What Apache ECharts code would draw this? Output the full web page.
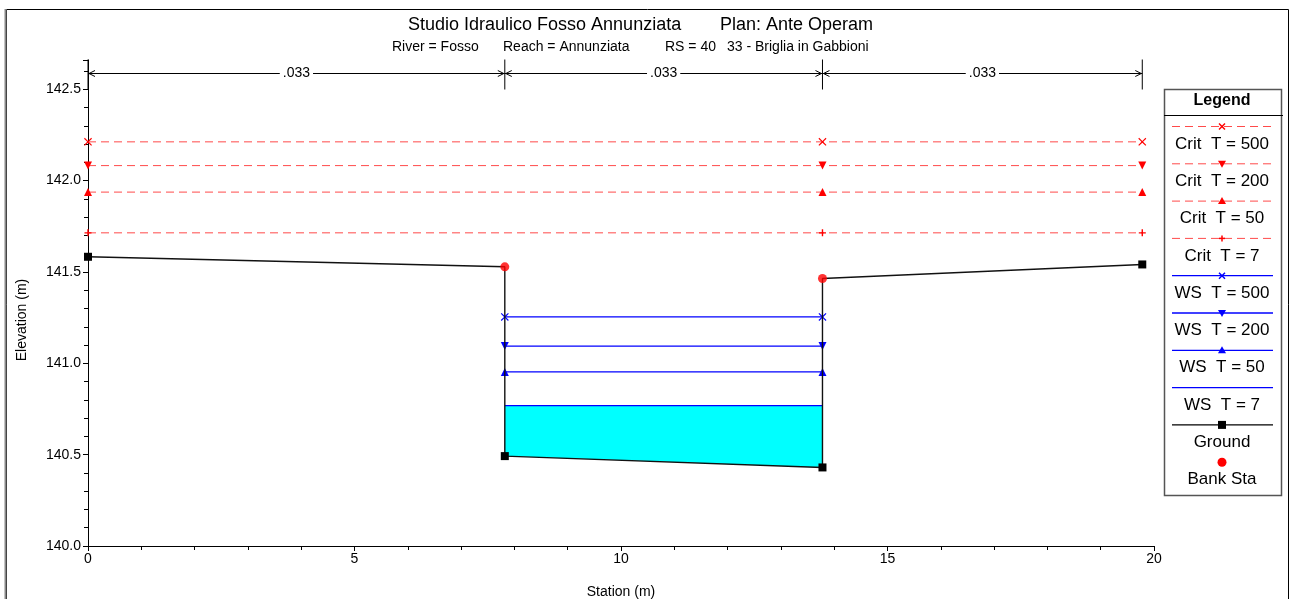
<!DOCTYPE html>
<html>
<head>
<meta charset="utf-8">
<script src="https://cdn.jsdelivr.net/npm/echarts@6/dist/echarts.min.js"></script>
<style>html,body{margin:0;padding:0;background:#fff}#c{width:1291px;height:599px}</style>
</head>
<body>
<div id="c"></div>
<script>
// ---- data ----
const groundX = [0, 7.82, 7.82, 13.78, 13.78, 19.78];
const groundY = [141.583, 141.528, 140.492, 140.43, 141.464, 141.541];
const bankX = [7.82, 13.78];
const bankY = [141.528, 141.464];
const wsX = [7.82, 13.78];
const wsNames = ['WS  T = 500', 'WS  T = 200', 'WS  T = 50', 'WS  T = 7'];
const wsLevels = [141.254, 141.094, 140.953, 140.768];
const critX = [0, 13.78, 19.78];
const critNames = ['Crit  T = 500', 'Crit  T = 200', 'Crit  T = 50', 'Crit  T = 7'];
const critLevels = [142.212, 142.082, 141.937, 141.714];
const nBounds = [0, 7.82, 13.78, 19.78];
const nValues = ['.033', '.033', '.033'];
const xTicks = [0, 5, 10, 15, 20];
const yTicks = [140.0, 140.5, 141.0, 141.5, 142.0, 142.5];

const FONT = 'Liberation Sans, Arial, sans-serif';
const RED = '#ff0000', RED_LINE = '#ff4a4a', BLUE = '#0000ff';

const SYM = {
  x: 'path://M1,0L5,4L9,0L10,1L6,5L10,9L9,10L5,6L1,10L0,9L4,5L0,1Z',
  down: 'path://M0,0L10,0L5,9Z',
  up: 'path://M5,0L10,9L0,9Z',
  plus: 'path://M4,0H6V4H10V6H6V10H4V6H0V4H4Z'
};
const markerKinds = ['x', 'down', 'up', 'plus'];
const wsMarkerKinds = ['x', 'down', 'up', null];

const series = [];

// water fill (WS T = 7 down to channel bed)
series.push({
  type: 'custom', name: 'water', z: 1, silent: true,
  data: [[0]],
  renderItem: function (params, api) {
    const lvl = wsLevels[3];
    const pts = [
      api.coord([groundX[2], lvl]),
      api.coord([groundX[3], lvl]),
      api.coord([groundX[3], groundY[3]]),
      api.coord([groundX[2], groundY[2]])
    ];
    return { type: 'polygon', shape: { points: pts }, style: { fill: '#00ffff', stroke: null } };
  }
});

// Crit lines
critLevels.forEach(function (lv, i) {
  series.push({
    type: 'line', name: critNames[i], z: 3,
    data: critX.map(function (x) { return [x, lv]; }),
    symbol: SYM[markerKinds[i]], symbolSize: i === 3 ? 7 : 8, showSymbol: true,
    itemStyle: { color: RED },
    lineStyle: { color: RED_LINE, width: 1, type: [8, 5] },
    animation: false
  });
});

// WS lines
wsLevels.forEach(function (lv, i) {
  const k = wsMarkerKinds[i];
  series.push({
    type: 'line', name: wsNames[i], z: 4,
    data: wsX.map(function (x) { return [x, lv]; }),
    symbol: k ? SYM[k] : 'none', symbolSize: 8, showSymbol: !!k,
    itemStyle: { color: BLUE },
    lineStyle: { color: BLUE, width: 1.2 },
    animation: false
  });
});

// Ground
series.push({
  type: 'line', name: 'Ground', z: 5,
  data: groundX.map(function (x, i) {
    let isBank = false;
    for (let j = 0; j < bankX.length; j++) if (bankX[j] === x && bankY[j] === groundY[i]) isBank = true;
    return { value: [x, groundY[i]], symbol: isBank ? 'none' : 'rect' };
  }),
  symbolSize: 8, showSymbol: true,
  itemStyle: { color: '#000' },
  lineStyle: { color: '#111', width: 1.4 },
  animation: false
});

// Bank stations
series.push({
  type: 'scatter', name: 'Bank Sta', z: 6,
  data: bankX.map(function (x, i) { return [x, bankY[i]]; }),
  symbol: 'circle', symbolSize: 9,
  itemStyle: { color: RED },
  animation: false
});

// Manning's n annotations
series.push({
  type: 'custom', name: 'n', z: 7, silent: true, clip: false,
  data: nValues.map(function (v, i) { return [nBounds[i], nBounds[i + 1]]; }),
  renderItem: function (params, api) {
    const i = params.dataIndex;
    const y = params.coordSys.y + 13.5;
    const x0 = api.coord([nBounds[i], 142])[0];
    const x1 = api.coord([nBounds[i + 1], 142])[0];
    const st = { stroke: '#000', lineWidth: 1, fill: null };
    const children = [
      { type: 'line', shape: { x1: x0, y1: y, x2: x1, y2: y }, style: st },
      { type: 'polyline', shape: { points: [[x0 + 7, y - 3], [x0 + 1, y], [x0 + 7, y + 3]] }, style: st },
      { type: 'polyline', shape: { points: [[x1 - 7, y - 3], [x1 - 1, y], [x1 - 7, y + 3]] }, style: st },
      { type: 'line', shape: { x1: x1, y1: y - 14, x2: x1, y2: y + 16 }, style: st },
      { type: 'text', x: (x0 + x1) / 2, y: y, style: {
          text: nValues[i], align: 'center', verticalAlign: 'middle',
          fill: '#000', font: '14px ' + FONT, backgroundColor: '#fff', padding: [0, 3]
        } }
    ];
    if (i === 0) children.push({ type: 'line', shape: { x1: x0, y1: y - 14, x2: x0, y2: y + 16 }, style: st });
    return { type: 'group', children: children };
  }
});

// ---- legend (graphic) ----
const legendItems = [];
critNames.forEach(function (n, i) { legendItems.push({ name: n, color: RED, line: RED_LINE, dash: [8, 5], marker: markerKinds[i] }); });
wsNames.forEach(function (n, i) { legendItems.push({ name: n, color: BLUE, line: BLUE, dash: null, marker: wsMarkerKinds[i] }); });
legendItems.push({ name: 'Ground', color: '#000', line: '#000', dash: null, marker: 'square' });
legendItems.push({ name: 'Bank Sta', color: RED, line: null, dash: null, marker: 'circle' });

function markerGraphic(kind, cx, cy, color) {
  const ls = { stroke: color, lineWidth: 1.5 };
  if (kind === 'x') return { type: 'group', children: [
    { type: 'line', shape: { x1: cx - 3, y1: cy - 3, x2: cx + 3, y2: cy + 3 }, style: ls, z: 12 },
    { type: 'line', shape: { x1: cx + 3, y1: cy - 3, x2: cx - 3, y2: cy + 3 }, style: ls, z: 12 } ] };
  if (kind === 'plus') return { type: 'group', children: [
    { type: 'line', shape: { x1: cx - 3, y1: cy, x2: cx + 3, y2: cy }, style: ls, z: 12 },
    { type: 'line', shape: { x1: cx, y1: cy - 3, x2: cx, y2: cy + 3 }, style: ls, z: 12 } ] };
  if (kind === 'down') return { type: 'polygon', shape: { points: [[cx - 4, cy - 3], [cx + 4, cy - 3], [cx, cy + 4]] }, style: { fill: color } };
  if (kind === 'up') return { type: 'polygon', shape: { points: [[cx - 4, cy + 3], [cx + 4, cy + 3], [cx, cy - 4]] }, style: { fill: color } };
  if (kind === 'square') return { type: 'rect', shape: { x: cx - 4, y: cy - 4, width: 8, height: 8 }, style: { fill: color } };
  if (kind === 'circle') return { type: 'circle', shape: { cx: cx, cy: cy, r: 4.5 }, style: { fill: color } };
  return null;
}

const graphics = [
  // outer frame
  { type: 'rect', shape: { x: 6.5, y: 9.5, width: 1282, height: 620 }, style: { stroke: '#000', lineWidth: 1, fill: null }, silent: true },
  { type: 'line', shape: { x1: 5.5, y1: 9, x2: 5.5, y2: 599 }, style: { stroke: '#888', lineWidth: 2 }, silent: true },
  // titles
  { type: 'text', x: 408, y: 25, style: { text: 'Studio Idraulico Fosso Annunziata', font: '18px ' + FONT, fill: '#000', verticalAlign: 'middle' } },
  { type: 'text', x: 720, y: 25, style: { text: 'Plan: Ante Operam', font: '18px ' + FONT, fill: '#000', verticalAlign: 'middle' } },
  { type: 'text', x: 392, y: 47, style: { text: 'River = Fosso', font: '14px ' + FONT, fill: '#000', verticalAlign: 'middle' } },
  { type: 'text', x: 503, y: 47, style: { text: 'Reach = Annunziata', font: '14px ' + FONT, fill: '#000', verticalAlign: 'middle' } },
  { type: 'text', x: 665, y: 47, style: { text: 'RS = 40', font: '14px ' + FONT, fill: '#000', verticalAlign: 'middle' } },
  { type: 'text', x: 727, y: 47, style: { text: '33 - Briglia in Gabbioni', font: '14px ' + FONT, fill: '#000', verticalAlign: 'middle' } },
  // axis names
  { type: 'text', x: 22, y: 320, rotation: Math.PI / 2, style: { text: 'Elevation (m)', font: '14px ' + FONT, fill: '#000', align: 'center', verticalAlign: 'middle' } },
  { type: 'text', x: 621, y: 592, style: { text: 'Station (m)', font: '14px ' + FONT, fill: '#000', align: 'center', verticalAlign: 'middle' } },
  // legend box
  { type: 'rect', shape: { x: 1164.5, y: 89.5, width: 117, height: 406 }, style: { stroke: '#555', lineWidth: 1.5, fill: '#fff' }, z: 10 },
  { type: 'text', x: 1222, y: 101, z: 11, style: { text: 'Legend', font: 'bold 16px ' + FONT, fill: '#000', align: 'center', verticalAlign: 'middle' } },
  { type: 'line', shape: { x1: 1164, y1: 115.5, x2: 1283, y2: 115.5 }, style: { stroke: '#000', lineWidth: 1 }, z: 11 }
];
legendItems.forEach(function (it, i) {
  const iy = 126.5 + i * 37.3;
  if (it.line) graphics.push({ type: 'line', z: 11, shape: { x1: 1172, y1: iy, x2: 1273, y2: iy }, style: { stroke: it.line, lineWidth: it.dash ? 1 : 1.3, lineDash: it.dash } });
  const m = it.marker ? markerGraphic(it.marker, 1222, iy, it.color) : null;
  if (m) { m.z = 12; graphics.push(m); }
  graphics.push({ type: 'text', z: 12, x: 1222, y: iy + 17.5, style: { text: it.name, font: '17px ' + FONT, fill: '#000', align: 'center', verticalAlign: 'middle' } });
});

const chart = echarts.init(document.getElementById('c'), null, { renderer: 'canvas' });
chart.setOption({
  animation: false,
  backgroundColor: '#fff',
  textStyle: { fontFamily: FONT },
  grid: { left: 88, right: 137, top: 60, bottom: 53, containLabel: false },
  xAxis: {
    type: 'value', min: xTicks[0], max: xTicks[xTicks.length - 1], interval: xTicks[1] - xTicks[0],
    axisLine: { lineStyle: { color: '#000', width: 1 } },
    axisTick: { length: 5, lineStyle: { color: '#000' } },
    minorTick: { show: true, splitNumber: 5, length: 4, lineStyle: { color: '#000' } },
    axisLabel: { color: '#000', fontSize: 14, margin: 6, formatter: function (v) { return String(v); } },
    splitLine: { show: false }
  },
  yAxis: {
    type: 'value', min: yTicks[0], max: 142.66, interval: yTicks[1] - yTicks[0],
    axisLine: { show: true, lineStyle: { color: '#000', width: 1 } },
    axisTick: { show: true, length: 5, lineStyle: { color: '#000' } },
    minorTick: { show: true, splitNumber: 5, length: 4, lineStyle: { color: '#000' } },
    axisLabel: { color: '#000', fontSize: 14, margin: 7, showMaxLabel: false, formatter: function (v) { return v.toFixed(1); } },
    splitLine: { show: false }
  },
  series: series,
  graphic: graphics
});
</script>
</body>
</html>
